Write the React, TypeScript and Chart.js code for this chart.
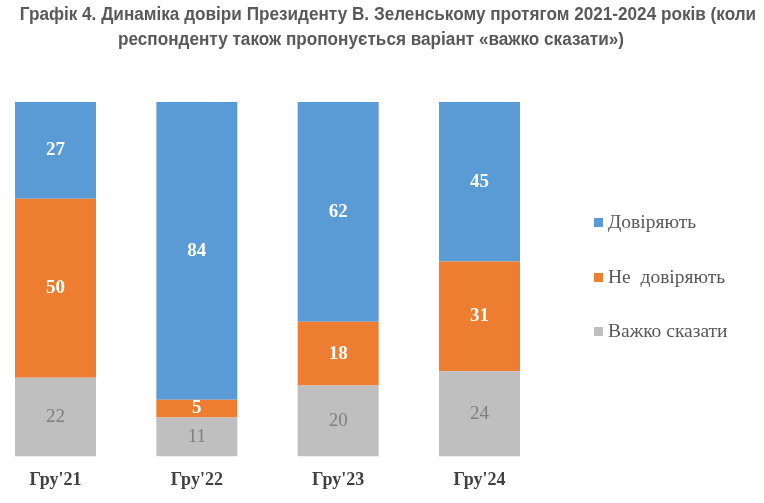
import { useEffect, useRef } from "react";
import { Chart, ChartConfiguration, Plugin, registerables } from "chart.js";

Chart.register(...registerables);

const categories = ["Гру'21", "Гру'22", "Гру'23", "Гру'24"];
const trustValues = [27, 84, 62, 45];
const distrustValues = [50, 5, 18, 31];
const hardToSayValues = [22, 11, 20, 24];

const seriesLabels = ["Довіряють", "Не  довіряють", "Важко сказати"];
const seriesValues = [trustValues, distrustValues, hardToSayValues];
const seriesColors = ["#5B9BD5", "#ED7D31", "#BFBFBF"];

const titleLines = [
  "Графік 4. Динаміка довіри Президенту В. Зеленському протягом 2021-2024 років (коли",
  "респонденту також пропонується варіант «важко сказати»)",
];

const serif = "'Liberation Serif', 'Times New Roman', serif";

// each bar is drawn as a share of its own total (bars all reach the top)
const totals = categories.map((_, i) =>
  seriesValues.reduce((sum, s) => sum + s[i], 0)
);

const segmentLabels: Plugin<"bar"> = {
  id: "segmentLabels",
  afterDatasetsDraw(chart) {
    const { ctx } = chart;
    chart.data.datasets.forEach((ds, di) => {
      const meta = chart.getDatasetMeta(di);
      const seriesIndex = (ds as any).seriesIndex as number;
      const isGray = seriesIndex === 2;
      meta.data.forEach((bar, i) => {
        const { x, y, base } = bar.getProps(["x", "y", "base"], true) as any;
        ctx.save();
        ctx.font = `${isGray ? "normal" : "bold"} 19px ${serif}`;
        ctx.fillStyle = isGray ? "#7F7F7F" : "#FFFFFF";
        ctx.textAlign = "center";
        ctx.textBaseline = "middle";
        ctx.fillText(String(seriesValues[seriesIndex][i]), x, (y + base) / 2);
        ctx.restore();
      });
    });
  },
};

export default function App() {
  const canvasRef = useRef<HTMLCanvasElement | null>(null);

  useEffect(() => {
    if (!canvasRef.current) return;

    // stacked from the bottom: gray, orange, blue
    const order = [2, 1, 0];
    const config: ChartConfiguration<"bar"> = {
      type: "bar",
      data: {
        datasets: order.map((si) => ({
          label: seriesLabels[si],
          seriesIndex: si,
          data: seriesValues[si].map((v, i) => ({ x: i, y: (v / totals[i]) * 100 })),
          backgroundColor: seriesColors[si],
          borderWidth: 0,
          categoryPercentage: 1,
          barPercentage: 0.573,
        })) as any,
      },
      plugins: [segmentLabels],
      options: {
        responsive: false,
        animation: false,
        layout: { padding: { top: 102, bottom: 7, left: 0, right: 0 } },
        plugins: {
          legend: { display: false },
          tooltip: { enabled: false },
        },
        scales: {
          x: {
            type: "linear",
            min: -0.3927,
            max: 5.013,
            offset: false,
            stacked: true,
            grid: { display: false },
            border: { display: false },
            afterBuildTicks: (axis) => {
              axis.ticks = categories.map((_, i) => ({ value: i }));
            },
            ticks: {
              padding: 5,
              color: "#404040",
              autoSkip: false,
              maxRotation: 0,
              font: { family: serif, size: 18, weight: "bold" },
              callback: (v) => categories[Number(v)] ?? "",
            },
          },
          y: { display: false, stacked: true, min: 0, max: 100 },
        },
      },
    };

    const chart = new Chart(canvasRef.current, config);
    return () => chart.destroy();
  }, []);

  const legendTops = [211, 266, 320];

  return (
    <div style={{ position: "absolute", left: 0, top: 0, width: 764, height: 503, background: "#fff" }}>
      <canvas ref={canvasRef} width={764} height={503} style={{ position: "absolute", left: 0, top: 0 }} />
      {titleLines.map((line, i) => (
        <div
          key={i}
          style={{
            position: "absolute",
            left: i === 0 ? 388 : 371,
            top: i === 0 ? 4 : 29,
            transform: "translateX(-50%) scaleX(0.953)",
            whiteSpace: "nowrap",
            fontFamily: "'Liberation Sans', Arial, sans-serif",
            fontWeight: "bold",
            fontSize: 18,
            color: "#595959",
          }}
        >
          {line}
        </div>
      ))}
      {seriesLabels.map((label, i) => (
        <div
          key={label}
          style={{
            position: "absolute",
            left: 594,
            top: legendTops[i],
            display: "flex",
            alignItems: "center",
            whiteSpace: "pre",
            fontFamily: serif,
            fontSize: 19.5,
            color: "#595959",
          }}
        >
          <span style={{ display: "inline-block", width: 9, height: 9, background: seriesColors[i], marginRight: 5 }} />
          {label}
        </div>
      ))}
    </div>
  );
}
